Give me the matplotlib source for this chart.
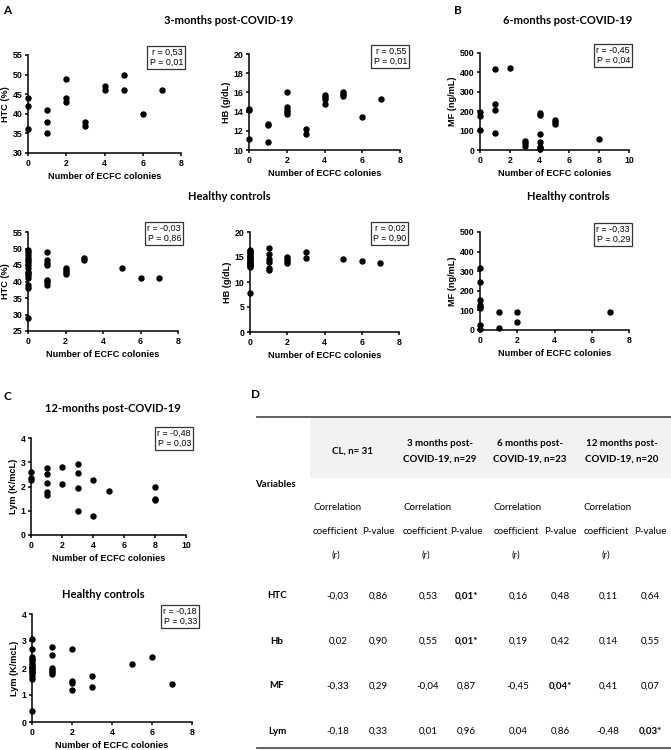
import matplotlib as mpl
import matplotlib.pyplot as plt
from matplotlib.lines import Line2D
from matplotlib.patches import Rectangle

mpl.rcParams['font.family'] = 'Liberation Sans'
mpl.rcParams['axes.linewidth'] = 1.1
mpl.rcParams['xtick.major.width'] = 1.1
mpl.rcParams['ytick.major.width'] = 1.1
mpl.rcParams['xtick.major.size'] = 2.5
mpl.rcParams['ytick.major.size'] = 2.5
mpl.rcParams['xtick.major.pad'] = 1.5
mpl.rcParams['ytick.major.pad'] = 1.5

W, H = 671, 750
TITLE_FONT = 'Lato'

# ---- data ----
htc_3m_x = [0, 0, 0, 1, 1, 1, 2, 2, 2, 3, 3, 4, 4, 5, 5, 6, 7]
htc_3m_y = [44, 42, 36, 41, 38, 35, 49, 44, 43, 38, 37, 47, 46, 50, 46, 40, 46]

hb_3m_x = [0, 0, 0, 1, 1, 1, 2, 2, 2, 2, 2, 3, 3, 4, 4, 4, 4, 5, 5, 5, 6, 7]
hb_3m_y = [14.3, 14.2, 11.1, 12.7, 12.6, 10.8, 16.0, 14.5, 14.2, 14.0, 13.8,
           12.2, 11.7, 15.7, 15.5, 15.3, 14.8, 16.0, 15.8, 15.6, 13.4, 15.3]

mf_6m_x = [0, 0, 0, 1, 1, 1, 1, 2, 3, 3, 3, 4, 4, 4, 4, 4, 4, 4, 5, 5, 5, 8]
mf_6m_y = [196, 175, 103, 416, 237, 204, 86, 424, 48, 34, 21,
           189, 179, 82, 43, 17, 10, 5, 155, 144, 134, 58]

htc_hc_x = [0, 0, 0, 0, 0, 0, 0, 0, 0, 0, 0, 0, 0, 0, 0,
            1, 1, 1, 1, 1, 1, 1, 2, 2, 2, 2, 3, 3, 5, 6, 7]
htc_hc_y = [49.5, 49, 48, 47, 46.5, 46, 45, 44, 43, 42.5, 42, 41, 39, 38, 29,
            49, 46.5, 45.5, 45, 40.5, 40, 39, 44, 43.5, 43, 42.2, 47, 46.5,
            44, 41, 41]

hb_hc_x = [0, 0, 0, 0, 0, 0, 0, 0, 0, 0, 0, 0, 0, 0, 0, 0,
           1, 1, 1, 1, 1, 1, 2, 2, 2, 2, 3, 3, 5, 6, 7]
hb_hc_y = [16.4, 16.2, 16.0, 15.7, 15.4, 15.1, 14.8, 14.6, 14.3, 14.1, 13.9,
           13.6, 13.4, 13.2, 13.0, 7.8,
           16.8, 15.6, 14.7, 14.0, 12.8, 12.4, 15.1, 14.7, 14.3, 13.9,
           16.1, 14.9, 14.6, 14.3, 13.9]

mf_hc_x = [0, 0, 0, 0, 0, 0, 0, 0, 1, 1, 2, 2, 7]
mf_hc_y = [318, 243, 153, 127, 118, 112, 25, 5, 90, 10, 91, 41, 91]

lym_12m_x = [0, 0, 0, 1, 1, 1, 1, 1, 2, 2, 3, 3, 3, 3, 4, 4, 5, 8, 8, 8]
lym_12m_y = [2.6, 2.35, 2.25, 2.77, 2.52, 2.15, 1.78, 1.66, 2.79, 2.10,
             2.94, 2.55, 1.93, 0.97, 2.26, 0.77, 1.81, 1.97, 1.48, 1.45]

lym_hc_x = [0, 0, 0, 0, 0, 0, 0, 0, 0, 0, 0, 0, 0, 0, 0, 0,
            1, 1, 1, 1, 1, 1, 2, 2, 2, 2, 3, 3, 5, 6, 7]
lym_hc_y = [3.09, 2.70, 2.40, 2.35, 2.30, 2.20, 2.10, 2.05, 2.00, 1.95, 1.90,
            1.85, 1.80, 1.70, 1.60, 0.41,
            2.78, 2.50, 1.99, 1.93, 1.86, 1.78, 2.70, 1.53, 1.43, 1.20,
            1.70, 1.30, 2.14, 2.40, 1.40]

# table D
table_groups = ['CL, n= 31', '3 months post-\nCOVID-19, n=29',
                '6 months post-\nCOVID-19, n=23', '12 months post-\nCOVID-19, n=20']
table_vars = ['HTC', 'Hb', 'MF', 'Lym']
table_r = [['-0,03', '0,53', '0,16', '0,11'],
           ['0,02', '0,55', '0,19', '0,14'],
           ['-0,33', '-0,04', '-0,45', '0,41'],
           ['-0,18', '0,01', '0,04', '-0,48']]
table_p = [['0,86', '0,01*', '0,48', '0,64'],
           ['0,90', '0,01*', '0,42', '0,55'],
           ['0,29', '0,87', '0,04*', '0,07'],
           ['0,33', '0,96', '0,86', '0,03*']]


def fx(px):
    return px / W


def fy(py):
    return 1 - py / H


def px_rect(left, top, right, bottom):
    return [fx(left), fy(bottom), (right - left) / W, (bottom - top) / H]


fig = plt.figure(figsize=(W / 100, H / 100), dpi=100)


def scatter_panel(rect, x, y, xlim, xticks, ylim, yticks, ylabel, stat, box):
    ax = fig.add_axes(px_rect(*rect))
    ax.plot(x, y, 'o', color='black', ms=3.6, clip_on=False, zorder=3)
    ax.set_xlim(*xlim)
    ax.set_ylim(*ylim)
    ax.set_xticks(xticks)
    ax.set_yticks(yticks)
    for s in ['top', 'right']:
        ax.spines[s].set_visible(False)
    ax.tick_params(labelsize=6.3)
    for lab in ax.get_xticklabels() + ax.get_yticklabels():
        lab.set_fontweight('bold')
    ax.set_xlabel('Number of ECFC colonies', fontsize=6.6, fontweight='bold', labelpad=3)
    ax.set_ylabel(ylabel, fontsize=6.6, fontweight='bold', labelpad=2)
    fig.text(fx(box[0]), fy(box[1]), 'r = {}\nP = {}'.format(*stat),
             ha='right', va='top', fontsize=6.4, linespacing=1.1,
             bbox=dict(boxstyle='square,pad=0.25', fc='white', ec='#333333', lw=0.9))
    return ax


# panel A / B, top row
scatter_panel((28, 55, 181, 153), htc_3m_x, htc_3m_y, (0, 8), [0, 2, 4, 6, 8],
              (30, 55), [30, 35, 40, 45, 50, 55], 'HTC (%)', ('0,53', '0,01'), (183, 48))
scatter_panel((249, 54, 400, 150), hb_3m_x, hb_3m_y, (0, 8), [0, 2, 4, 6, 8],
              (10, 20), [10, 12, 14, 16, 18, 20], 'HB (g/dL)', ('0,55', '0,01'), (407, 47))
scatter_panel((480, 53, 629, 150), mf_6m_x, mf_6m_y, (0, 10), [0, 2, 4, 6, 8, 10],
              (0, 500), [0, 100, 200, 300, 400, 500], 'MF (ng/mL)', ('-0,45', '0,04'), (630, 46))

# healthy controls row
scatter_panel((28, 232, 178, 331), htc_hc_x, htc_hc_y, (0, 8), [0, 2, 4, 6, 8],
              (25, 55), [25, 30, 35, 40, 45, 50, 55], 'HTC (%)', ('-0,03', '0,86'), (181, 224))
scatter_panel((250, 232, 399, 332), hb_hc_x, hb_hc_y, (0, 8), [0, 2, 4, 6, 8],
              (0, 20), [0, 5, 10, 15, 20], 'HB (g/dL)', ('0,02', '0,90'), (406, 224))
scatter_panel((480, 232, 629, 330), mf_hc_x, mf_hc_y, (0, 8), [0, 2, 4, 6, 8],
              (0, 500), [0, 100, 200, 300, 400, 500], 'MF (ng/mL)', ('-0,33', '0,29'), (630, 225))

# panel C
scatter_panel((31, 438, 186, 535), lym_12m_x, lym_12m_y, (0, 10), [0, 2, 4, 6, 8, 10],
              (0, 4), [0, 1, 2, 3, 4], 'Lym (K/mcL)', ('-0,48', '0,03'), (191, 429))
scatter_panel((32, 614, 192, 722), lym_hc_x, lym_hc_y, (0, 8), [0, 2, 4, 6, 8],
              (0, 4), [0, 1, 2, 3, 4], 'Lym (K/mcL)', ('-0,18', '0,33'), (197, 607))

# titles and panel letters
titles = [('3-months post-COVID-19', 229, 21), ('6-months post-COVID-19', 568, 21),
          ('Healthy controls', 229, 197), ('Healthy controls', 568, 197),
          ('12-months post-COVID-19', 113, 408), ('Healthy controls', 103, 594)]
for txt, x, y in titles:
    fig.text(fx(x), fy(y), txt, ha='center', va='center', fontsize=8,
             fontweight='bold', family=TITLE_FONT)

for letter, x, y in [('A', 3, 10), ('B', 454, 10), ('C', 3, 396), ('D', 251, 395)]:
    fig.text(fx(x), fy(y), letter, ha='left', va='center', fontsize=8.5,
             fontweight='bold', family=TITLE_FONT)

# ---- table D ----
fig.patches.append(Rectangle((fx(310), fy(478)), fx(671) - fx(310), fy(418) - fy(478),
                             transform=fig.transFigure, fc='#f2f2f2', ec='none', zorder=0))
fig.lines.append(Line2D([fx(257), fx(671)], [fy(417), fy(417)], transform=fig.transFigure,
                        color='#555555', lw=1.3))
fig.lines.append(Line2D([fx(257), fx(671)], [fy(748), fy(748)], transform=fig.transFigure,
                        color='#555555', lw=1.3))

tfs = 7
group_cx = [352, 440, 530, 622]
r_cx = [338, 428, 518, 608]
p_cx = [378, 466, 560, 650]
corr_left = [313, 403, 494, 584]
for i, g in enumerate(table_groups):
    fig.text(fx(group_cx[i]), fy(451), g, ha='center', va='center', fontsize=tfs,
             fontweight='bold', family=TITLE_FONT, linespacing=1.9)
    fig.text(fx(corr_left[i]), fy(508), 'Correlation', ha='left', va='center',
             fontsize=tfs, family=TITLE_FONT)
    fig.text(fx(corr_left[i]), fy(532), 'coefficient', ha='left', va='center',
             fontsize=tfs, family=TITLE_FONT)
    fig.text(fx(r_cx[i] - 2), fy(555), '(r)', ha='center', va='center',
             fontsize=tfs, family=TITLE_FONT)
    fig.text(fx(p_cx[i]), fy(532), 'P-value', ha='center', va='center',
             fontsize=tfs, family=TITLE_FONT)

fig.text(fx(275), fy(485), 'Variables', ha='center', va='center', fontsize=tfs,
         fontweight='bold', family=TITLE_FONT)

row_y = [596, 641, 686, 731]
for j, var in enumerate(table_vars):
    fig.text(fx(277), fy(row_y[j]), var, ha='center', va='center', fontsize=tfs,
             fontweight='bold', family=TITLE_FONT)
    for i in range(4):
        fig.text(fx(r_cx[i]), fy(row_y[j]), table_r[j][i], ha='center', va='center',
                 fontsize=tfs, family=TITLE_FONT)
        p = table_p[j][i]
        fig.text(fx(p_cx[i]), fy(row_y[j]), p, ha='center', va='center', fontsize=tfs,
                 family=TITLE_FONT, fontweight='bold' if p.endswith('*') else 'normal')

fig.savefig('out.png', dpi=100)
